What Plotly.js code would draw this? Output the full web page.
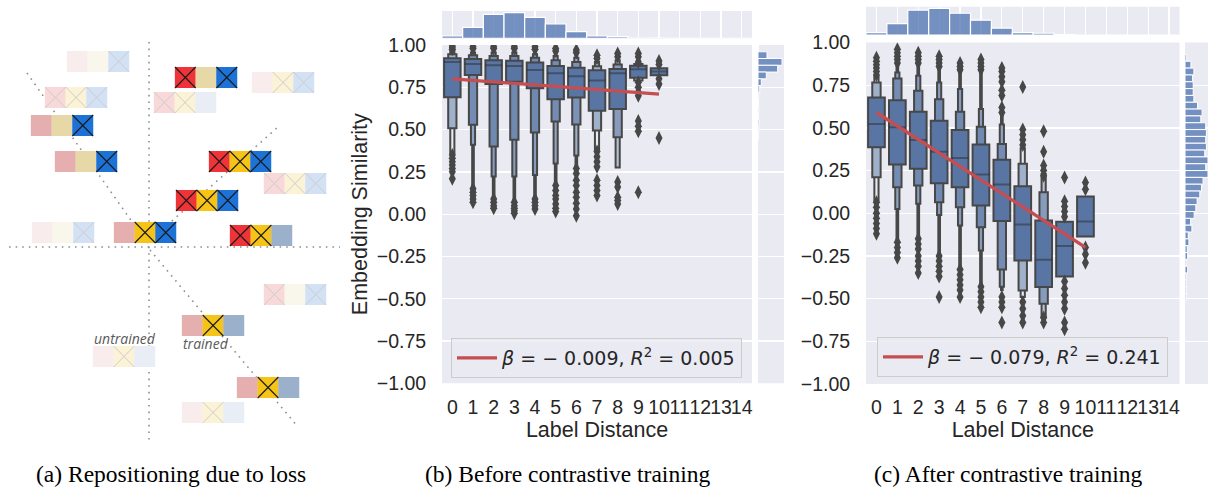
<!DOCTYPE html>
<html>
<head>
<meta charset="utf-8">
<script src="https://cdn.plot.ly/plotly-3.0.1.min.js"></script>
<style>
html,body{margin:0;padding:0;background:#ffffff;}
#chart{width:1208px;height:488px;}
</style>
</head>
<body>
<div id="chart"></div>
<script>
// ================= DATA =================
const distances = [0,1,2,3,4,5,6,7,8,9,10,11,12,13,14];
const distanceLabels = ['0','1','2','3','4','5','6','7','8','9','10','11','12','13','14'];
// marginal histogram of label distance (relative heights)
const pairShare = [2.3, 11, 24, 25.7, 21, 14.3, 6.7, 2.3, 1.7, 0.5, 0.2, 0, 0, 0, 0];
const simTickVals = [-1, -0.75, -0.5, -0.25, 0, 0.25, 0.5, 0.75, 1];
const simTickText = ['\u22121.00','\u22120.75','\u22120.50','\u22120.25','0.00','0.25','0.50','0.75','1.00'];
const boxCats = [0,1,2,3,4,5,6,7,8,9,10];

// ---- (b) before contrastive training : letter-value boxes ----
const bMedian = [0.900, 0.888, 0.880, 0.876, 0.852, 0.833, 0.815, 0.790, 0.833, 0.856, 0.843];
const bL1Lo = [0.691, 0.823, 0.770, 0.783, 0.744, 0.679, 0.689, 0.612, 0.622, 0.807, 0.821];
const bL1Hi = [0.921, 0.917, 0.910, 0.907, 0.896, 0.876, 0.866, 0.850, 0.858, 0.878, 0.862];
const bL2Lo = [0.508, 0.528, 0.400, 0.440, 0.482, 0.547, 0.530, 0.494, 0.455, 0.790, null];
const bL2Hi = [0.945, 0.940, 0.935, 0.935, 0.925, 0.910, 0.900, 0.875, 0.885, 0.888, null];
const bL3Lo = [0.360, 0.410, 0.222, 0.222, 0.232, 0.300, 0.346, 0.380, 0.276, null, null];
const bL3Hi = [0.965, 0.955, 0.955, 0.955, 0.945, 0.935, 0.925, 0.900, 0.910, null, null];
const bL4Lo = [null, 0.163, 0.104, 0.085, 0.104, 0.183, 0.290, null, null, null, null];
const bL4Hi = [null, 0.970, 0.970, 0.970, 0.965, 0.955, 0.945, null, null, null, null];
const bDepth = [3, 6, 7, 7, 7, 6, 5, 3, 4, 2, 1];
const bOutliers = [
  [0.35, 0.33, 0.31, 0.29, 0.27, 0.25, 0.21, 0.975, 0.985, 0.995],
  [0.15, 0.13, 0.11, 0.09, 0.07, 0.98, 0.99],
  [0.09, 0.07, 0.05, 0.035, 0.98, 0.99],
  [0.07, 0.05, 0.035, 0.02, 0.005, 0.98, 0.99],
  [0.09, 0.07, 0.05, 0.03, 0.975, 0.99],
  [0.17, 0.14, 0.11, 0.09, 0.06, 0.035, 0.015, 0.965, 0.98],
  [0.27, 0.24, 0.20, 0.17, 0.13, 0.10, 0.065, 0.03, -0.01, 0.955, 0.97],
  [0.37, 0.34, 0.31, 0.28, 0.20, 0.17, 0.14, 0.11, 0.92, 0.94],
  [0.19, 0.16, 0.10, 0.08, 0.06, 0.93, 0.95],
  [0.78, 0.75, 0.72, 0.70, 0.55, 0.52, 0.49, 0.13, 0.90, 0.93, 0.95],
  [0.80, 0.77, 0.45, 0.885, 0.905]
];
const bIntercept = 0.80, bSlope = -0.009;
const bLegend = '<i>\u03b2</i> = \u2212 0.009, <i>R</i><sup>2</sup> = 0.005';
// marginal histogram of similarity (b)
const bSimBins = [0.98, 0.94, 0.90, 0.86, 0.82, 0.78, 0.74, 0.70, 0.66, 0.62, 0.58, 0.54, 0.50, 0.46];
const bSimCounts = [0.5, 9, 24, 19.7, 8.3, 3.3, 1.7, 0.8, 0.5, 0.8, 0.4, 1.0, 0.8, 0.3];

// ---- (c) after contrastive training ----
const cMedian = [0.522, 0.503, 0.429, 0.360, 0.323, 0.227, 0.168, -0.066, -0.272, -0.192, -0.048];
const cL1Lo = [0.386, 0.285, 0.260, 0.176, 0.152, 0.045, -0.046, -0.277, -0.432, -0.370, -0.136];
const cL1Hi = [0.678, 0.662, 0.594, 0.542, 0.487, 0.402, 0.314, 0.158, -0.042, -0.050, 0.098];
const cL2Lo = [0.211, 0.152, 0.162, 0.065, 0.035, -0.082, -0.330, -0.452, -0.530, null, null];
const cL2Hi = [0.766, 0.789, 0.717, 0.668, 0.594, 0.507, 0.406, 0.290, 0.123, null, null];
const cL3Lo = [0.074, 0.025, 0.055, -0.010, -0.072, -0.218, -0.430, -0.490, -0.610, null, null];
const cL3Hi = [0.800, 0.824, 0.805, 0.766, 0.727, 0.610, 0.520, 0.380, 0.230, null, null];
const cL4Lo = [null, -0.160, -0.140, -0.240, -0.320, -0.410, -0.450, null, null, null, null];
const cL4Hi = [null, 0.870, 0.870, 0.850, 0.830, 0.830, 0.570, null, null, null, null];
const cDepth = [3, 6, 7, 7, 7, 7, 6, 3, 4, 1, 1];
const cOutliers = [
  [0.065, 0.035, 0.0, -0.03, -0.06, -0.09, -0.12, 0.81, 0.83, 0.85, 0.87, 0.89, 0.91],
  [-0.17, -0.20, -0.23, -0.26, 0.88, 0.90, 0.92, 0.94, 0.96],
  [-0.15, -0.18, -0.21, -0.25, -0.28, -0.31, -0.35, 0.88, 0.90, 0.92, 0.94],
  [-0.25, -0.28, -0.31, -0.34, -0.37, -0.49, 0.86, 0.88, 0.90, 0.92],
  [-0.33, -0.36, -0.39, -0.42, -0.45, -0.49, 0.84, 0.86, 0.88],
  [-0.43, -0.46, -0.49, -0.52, -0.55, 0.84, 0.86, 0.88, 0.90],
  [-0.49, -0.52, -0.55, -0.64, 0.59, 0.62, 0.69, 0.72, 0.77, 0.80, 0.83, 0.85],
  [-0.52, -0.56, -0.60, -0.64, 0.40, 0.43, 0.46, 0.49, 0.74],
  [-0.61, -0.64, 0.22, 0.25, 0.28, 0.36, 0.48],
  [-0.40, -0.44, -0.48, -0.52, -0.56, -0.64, -0.68, -0.02, 0.01, 0.04, 0.07, 0.21],
  [-0.20, -0.24, -0.29, 0.14, 0.18]
];
const cIntercept = 0.59, cSlope = -0.079;
const cLegend = '<i>\u03b2</i> = \u2212 0.079, <i>R</i><sup>2</sup> = 0.241';
const cSimBins = [0.91, 0.87, 0.83, 0.79, 0.75, 0.71, 0.67, 0.63, 0.59, 0.55, 0.51, 0.47, 0.43, 0.39, 0.35, 0.31, 0.27, 0.23, 0.19, 0.15, 0.11, 0.07, 0.03, -0.01, -0.05, -0.09, -0.13, -0.17, -0.21, -0.25, -0.29, -0.33, -0.37, -0.41, -0.45, -0.49];
const cSimCounts = [1.7, 6, 9, 7.7, 8.3, 8.3, 9, 12.7, 17.3, 16, 21, 21.7, 21, 21.7, 20, 23.3, 21, 23.3, 18.3, 16.7, 15, 12.3, 11, 9.3, 5.7, 7, 3.3, 4, 2.3, 2.7, 1, 2.7, 1, 1, 1, 1];
const regRange = [0, 10];

// ---- (a) diagram: triplets of embedding cells ----
const tripLeft = [67, 45, 31, 55, 32, 114, 175, 154, 252, 209, 264, 176, 230, 264, 182, 93, 237, 182];
const tripTop  = [51, 87, 115, 151, 222, 222, 67, 92, 72, 151, 173, 190, 225, 284, 315, 346, 377, 402];
const tripCells = [
  ['fp','fc','fB'], ['fP','fY','fB'], ['p','t','B'], ['p','t','B'], ['fp','fc','fB'], ['p','Y','B'],
  ['R','t','B'], ['fP','fY','fl'], ['fp','fY','fB'], ['R','Y','B'], ['fP','fY','fB'], ['R','Y','B'],
  ['R','Y','g'], ['fP','fc','fB'], ['p','Y','g'], ['fp','fY','fl'], ['p','Y','g'], ['fp','fY','fl']
];
const guideX = [[27,147],[147,278],[150,298],[149,149],[9,340]];
const guideY = [[73,243],[243,127],[250,427],[42,444],[247,247]];
const diagramLabels = ['untrained', 'trained'];
const diagramLabelX = [92, 181];
const diagramLabelY = [338, 343];
const captions = ['(a) Repositioning due to loss', '(b) Before contrastive training', '(c) After contrastive training'];
const captionX = [171, 567, 1008];

// ================= STYLE =================
const W = 1208, H = 488;
const X = p => p / W;
const Y = p => 1 - p / H;
const EDGE = '#474747';
const BOX_DARK = [88, 117, 163];
const BOX_LIGHT = [230, 234, 241];
const LEVEL_WIDTHS = [0.8, 0.4, 0.2, 0.08];
const HIST_COLOR = 'rgba(76,114,176,0.75)';
const REG_COLOR = '#c44e52';
const cellStyle = {
  R: ['#ee3439', 'k'], Y: ['#f5c416', 'k'], B: ['#1d72d8', 'k'],
  p: ['#e5afb0', ''], t: ['#e7d9a7', ''], g: ['#9bb0cb', ''],
  fp: ['#f9ecec', ''], fP: ['#f8d8d8', 'l'], fc: ['#f9f7ec', ''],
  fY: ['#fcf2d5', 'l'], fB: ['#d3e1f5', 'l'], fl: ['#e9edf5', '']
};
const CELL_W = 20.7, CELL_H = 21;

function lvColor(j, n) {
  const t = n > 1 ? Math.min(1, j / (n - 1)) : 0;
  const c = BOX_DARK.map((d, k) => Math.round(d + t * (BOX_LIGHT[k] - d)));
  return 'rgb(' + c.join(',') + ')';
}

function boxenTraces(xa, ya, levels, median, depth, outliers) {
  const traces = [];
  for (let j = levels.length - 1; j >= 0; j--) {
    const lo = levels[j][0], hi = levels[j][1];
    const x = [], base = [], h = [], col = [];
    boxCats.forEach((c, i) => {
      if (lo[i] === null) return;
      x.push(c); base.push(lo[i]); h.push(hi[i] - lo[i]); col.push(lvColor(j, depth[i]));
    });
    traces.push({type: 'bar', xaxis: xa, yaxis: ya, x: x, y: h, base: base, width: LEVEL_WIDTHS[j],
      marker: {color: col, line: {color: EDGE, width: 2}}, showlegend: false, hoverinfo: 'skip'});
  }
  const mx = [], my = [];
  boxCats.forEach((c, i) => {
    mx.push(c - LEVEL_WIDTHS[0] / 2, c + LEVEL_WIDTHS[0] / 2, null);
    my.push(median[i], median[i], null);
  });
  traces.push({type: 'scatter', mode: 'lines', xaxis: xa, yaxis: ya, x: mx, y: my,
    line: {color: 'rgba(38,38,38,0.45)', width: 2}, showlegend: false, hoverinfo: 'skip'});
  const ox = [], oy = [];
  boxCats.forEach((c, i) => outliers[i].forEach(v => { ox.push(c); oy.push(v); }));
  traces.push({type: 'scatter', mode: 'markers', xaxis: xa, yaxis: ya, x: ox, y: oy,
    marker: {symbol: 'diamond-tall', size: 10, color: EDGE, line: {width: 0}},
    showlegend: false, hoverinfo: 'skip'});
  return traces;
}

function regTrace(xa, ya, b0, b1, name, legend) {
  return {type: 'scatter', mode: 'lines', xaxis: xa, yaxis: ya, x: regRange.slice(),
    y: regRange.map(v => b0 + b1 * v), line: {color: REG_COLOR, width: 3.3},
    name: name, legend: legend, hoverinfo: 'skip'};
}

function topHist(xa, ya) {
  return {type: 'bar', xaxis: xa, yaxis: ya, x: distances, y: pairShare, width: 1,
    marker: {color: HIST_COLOR, line: {color: '#ffffff', width: 1.2}}, showlegend: false, hoverinfo: 'skip'};
}
function sideHist(xa, ya, bins, counts) {
  return {type: 'bar', orientation: 'h', xaxis: xa, yaxis: ya, y: bins, x: counts, width: 0.04,
    marker: {color: HIST_COLOR, line: {color: '#ffffff', width: 1}}, showlegend: false, hoverinfo: 'skip'};
}

const traces = [];
// panel (b)
traces.push(topHist('x2', 'y2'));
traces.push(sideHist('x3', 'y3', bSimBins, bSimCounts));
traces.push(...boxenTraces('x', 'y',
  [[bL1Lo, bL1Hi], [bL2Lo, bL2Hi], [bL3Lo, bL3Hi], [bL4Lo, bL4Hi]], bMedian, bDepth, bOutliers));
traces.push(regTrace('x', 'y', bIntercept, bSlope, bLegend, 'legend'));
// panel (c)
traces.push(topHist('x5', 'y5'));
traces.push(sideHist('x6', 'y6', cSimBins, cSimCounts));
traces.push(...boxenTraces('x4', 'y4',
  [[cL1Lo, cL1Hi], [cL2Lo, cL2Hi], [cL3Lo, cL3Hi], [cL4Lo, cL4Hi]], cMedian, cDepth, cOutliers));
traces.push(regTrace('x4', 'y4', cIntercept, cSlope, cLegend, 'legend2'));

// panel (a) diagram
const gx = [], gy = [];
guideX.forEach((seg, i) => { gx.push(seg[0], seg[1], null); gy.push(guideY[i][0], guideY[i][1], null); });
traces.push({type: 'scatter', mode: 'lines', xaxis: 'x7', yaxis: 'y7', x: gx, y: gy,
  line: {color: '#8f8f8f', width: 1.6, dash: '1.6px,5px'}, showlegend: false, hoverinfo: 'skip'});
const cx = [], cy = [], cc = [];
const kx = [], ky = [], lx = [], ly = [];
tripCells.forEach((cells, t) => {
  cells.forEach((code, j) => {
    const xc = tripLeft[t] + CELL_W * (j + 0.5);
    const yc = tripTop[t] + CELL_H / 2;
    cx.push(xc); cy.push(yc); cc.push(cellStyle[code][0]);
    const cross = cellStyle[code][1];
    if (cross) {
      const ax = cross === 'k' ? kx : lx, ay = cross === 'k' ? ky : ly;
      const hw = CELL_W / 2, hh = CELL_H / 2;
      ax.push(xc - hw, xc + hw, null, xc - hw, xc + hw, null);
      ay.push(yc - hh, yc + hh, null, yc + hh, yc - hh, null);
    }
  });
});
traces.push({type: 'scatter', mode: 'markers', xaxis: 'x7', yaxis: 'y7', x: cx, y: cy,
  marker: {symbol: 'square', size: CELL_H, color: cc, line: {width: 0}}, showlegend: false, hoverinfo: 'skip'});
traces.push({type: 'scatter', mode: 'lines', xaxis: 'x7', yaxis: 'y7', x: lx, y: ly,
  line: {color: '#cdcdcd', width: 1}, showlegend: false, hoverinfo: 'skip'});
traces.push({type: 'scatter', mode: 'lines', xaxis: 'x7', yaxis: 'y7', x: kx, y: ky,
  line: {color: '#1a1a1a', width: 1.1}, showlegend: false, hoverinfo: 'skip'});

// ================= LAYOUT =================
const tickFont = {family: 'Liberation Sans, Arial, sans-serif', size: 19.5, color: '#262626'};
const titleFont = {family: 'Liberation Sans, Arial, sans-serif', size: 21.5, color: '#262626'};
function mainX(d, anchor) {
  return {domain: [X(d[0]), X(d[1])], anchor: anchor, range: [-0.5, 14.5], tickmode: 'array',
    tickvals: distances, ticktext: distanceLabels, ticks: 'outside', ticklen: 6,
    tickcolor: 'rgba(0,0,0,0)', tickangle: 0, showgrid: false, zeroline: false, showline: false,
    tickfont: tickFont, title: {text: 'Label Distance', font: titleFont, standoff: 3}};
}
function mainY(d, anchor, title) {
  const ax = {domain: [Y(d[1]), Y(d[0])], anchor: anchor, range: [-1, 1], tickmode: 'array',
    tickvals: simTickVals, ticktext: simTickText, ticks: 'outside', ticklen: 11,
    tickcolor: 'rgba(0,0,0,0)', showgrid: true, gridcolor: '#ffffff', gridwidth: 1.3,
    zeroline: false, showline: false, tickfont: tickFont};
  if (title) ax.title = {text: title, font: titleFont, standoff: 3};
  return ax;
}
function topX(d, anchor) {
  return {domain: [X(d[0]), X(d[1])], anchor: anchor, range: [-0.5, 14.5], tickmode: 'array',
    tickvals: distances, showticklabels: false, ticks: '', showgrid: true, gridcolor: '#ffffff',
    gridwidth: 1.3, zeroline: false, showline: false};
}
function topY(d, anchor) {
  return {domain: [Y(d[1]), Y(d[0])], anchor: anchor, range: [0, 27.3], showticklabels: false,
    ticks: '', showgrid: false, zeroline: false, showline: false};
}
function sideX(d, anchor, maxv) {
  return {domain: [X(d[0]), Math.min(1, X(d[1]))], anchor: anchor, range: [0, maxv], showticklabels: false,
    ticks: '', showgrid: false, zeroline: false, showline: false};
}
function sideY(d, anchor) {
  return {domain: [Y(d[1]), Y(d[0])], anchor: anchor, range: [-1, 1], tickmode: 'array',
    tickvals: simTickVals, showticklabels: false, ticks: '', showgrid: true, gridcolor: '#ffffff',
    gridwidth: 1.3, zeroline: false, showline: false};
}
const hidden = {showgrid: false, zeroline: false, showticklabels: false, ticks: '', showline: false};

const bgShapes = [['x','y'],['x2','y2'],['x3','y3'],['x4','y4'],['x5','y5'],['x6','y6']].map(p => ({
  type: 'rect', xref: p[0] + ' domain', yref: p[1] + ' domain', x0: 0, x1: 1, y0: 0, y1: 1,
  fillcolor: '#eaeaf2', line: {width: 0}, layer: 'below'}));

const legendStyle = (x, y) => ({x: X(x), y: Y(y), xanchor: 'left', yanchor: 'top',
  bgcolor: 'rgba(234,234,242,0.8)', bordercolor: '#cccccc', borderwidth: 1, itemwidth: 40,
  font: {family: 'DejaVu Sans, sans-serif', size: 19, color: '#262626'}});

const annotations = [];
captions.forEach((t, i) => annotations.push({xref: 'paper', yref: 'paper', x: X(captionX[i]), y: Y(473.5),
  xanchor: 'center', yanchor: 'middle', showarrow: false, text: t,
  font: {family: 'Liberation Serif, Times New Roman, serif', size: 23.5, color: '#000000'}}));
diagramLabels.forEach((t, i) => annotations.push({xref: 'x7', yref: 'y7', x: diagramLabelX[i], y: diagramLabelY[i],
  xanchor: 'left', yanchor: 'middle', showarrow: false, text: '<i>' + t + '</i>',
  font: {family: 'Open Sans, sans-serif', size: 14, color: '#5a5a5a'}}));

const layout = {
  width: W, height: H, margin: {l: 0, r: 0, t: 0, b: 0, pad: 0},
  paper_bgcolor: '#ffffff', plot_bgcolor: 'rgba(0,0,0,0)',
  font: {family: 'Liberation Sans, Arial, sans-serif', color: '#262626', size: 19.5},
  barmode: 'overlay', hovermode: false, showlegend: true,
  xaxis: mainX([442, 752], 'y'), yaxis: mainY([45, 383.3], 'x', 'Embedding Similarity'),
  xaxis2: topX([442, 752], 'y2'), yaxis2: topY([11, 38.3], 'x2'),
  xaxis3: sideX([758, 784], 'y3', 26), yaxis3: sideY([45, 383.3], 'x3'),
  xaxis4: mainX([866, 1179.5], 'y4'), yaxis4: mainY([42.5, 384], 'x4', null),
  xaxis5: topX([866, 1179.5], 'y5'), yaxis5: topY([6.7, 35], 'x5'),
  xaxis6: sideX([1185, 1208], 'y6', 23.3), yaxis6: sideY([42.5, 384], 'x6'),
  xaxis7: Object.assign({domain: [0, X(340)], anchor: 'y7', range: [0, 340]}, hidden),
  yaxis7: Object.assign({domain: [Y(460), Y(30)], anchor: 'x7', range: [460, 30]}, hidden),
  legend: legendStyle(451, 338), legend2: legendStyle(877, 337),
  shapes: bgShapes, annotations: annotations
};

Plotly.newPlot('chart', traces, layout, {staticPlot: true, displayModeBar: false});
</script>
</body>
</html>
